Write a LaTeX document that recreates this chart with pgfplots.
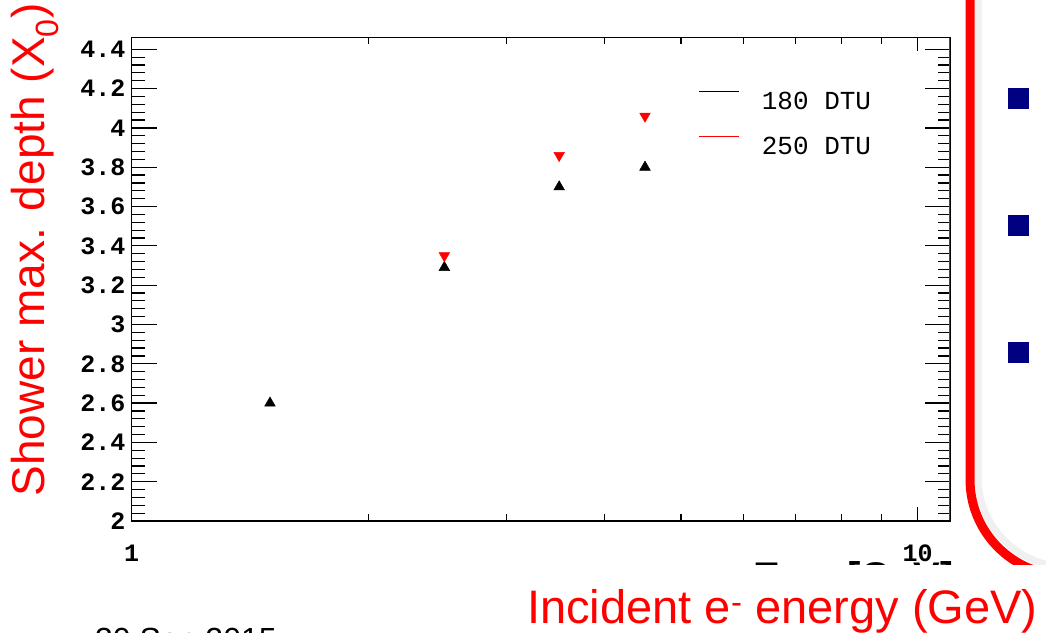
\documentclass[border=0pt]{standalone}
\usepackage{pgfplots}
\pgfplotsset{compat=1.18}
\usepackage{fontspec}
\setmainfont{Liberation Sans}
\newfontfamily\rootmono{Liberation Mono}
\definecolor{navyb}{RGB}{0,0,128}
\begin{document}
\begin{tikzpicture}
\clip (0pt,0pt) rectangle (1046pt,632pt);
\fill[white] (0pt,0pt) rectangle (1046pt,632pt);
% slide frame
\draw[gray!12, line width=7pt] (978pt,640pt) -- (978pt,155pt) arc[start angle=180,end angle=270,radius=90pt] -- (1100pt,65pt);
\draw[red, line width=9pt] (970pt,640pt) -- (970pt,152.5pt) arc[start angle=180,end angle=270,radius=96pt] -- (1100pt,56.5pt);
\fill[navyb] (1008pt,523pt) rectangle (1029pt,544pt);
\fill[navyb] (1008pt,396pt) rectangle (1029pt,417pt);
\fill[navyb] (1008pt,269pt) rectangle (1029pt,290pt);

\begin{axis}[
  at={(131.6pt,111pt)}, anchor=south west, scale only axis,
  width=819.1pt, height=483.5pt,
  xmode=log, xmin=1, xmax=11.02, ymin=2, ymax=4.46,
  xtick=\empty, minor xtick={},
  ytick={2,2.2,2.4,2.6,2.8,3,3.2,3.4,3.6,3.8,4,4.2,4.4},
  yticklabels={2,2.2,2.4,2.6,2.8,3,3.2,3.4,3.6,3.8,4,4.2,4.4},
  minor y tick num=4,
  tick align=inside, major tick length=26pt, minor tick length=13pt,
  /pgf/number format/assume math mode=true,
  yticklabel style={font=\rootmono\bfseries\fontsize{25}{25}\selectfont, inner sep=0pt, xshift=-6pt},
  axis line style={line width=1.5pt},
  every tick/.style={line width=1.2pt, black},
  clip=false,
  legend style={at={(0.688,0.8956)}, anchor=north west, draw=none, fill=none,
    font=\rootmono\fontsize{26}{26}\selectfont, column sep=20pt, row sep=24pt,
    nodes={inner sep=2pt, text height=17pt, text depth=0pt}},
  legend cell align=left,
]
\addplot[red, line width=2.6pt, forget plot] coordinates {(1,2) (11.02,2)};
\addplot[red, line width=1.2pt, forget plot] coordinates {(10.97,2) (10.97,4.46)};
\addplot[only marks, black, mark=triangle*, mark size=6.2pt, forget plot] coordinates {
  (1.5,2.60) (2.5,3.29) (3.5,3.70) (4.5,3.80)};
\addplot[only marks, red, mark=triangle*, mark size=6.2pt, mark options={rotate=180}, forget plot] coordinates {
  (2.5,3.35) (3.5,3.86) (4.5,4.06)};
\addlegendimage{legend image code/.code={\draw[black, line width=1.5pt] (0pt,9pt) -- (40pt,9pt);}}
\addlegendentry{180 DTU}
\addlegendimage{legend image code/.code={\draw[red, line width=1.5pt] (0pt,9pt) -- (40pt,9pt);}}
\addlegendentry{250 DTU}
\end{axis}

\begin{axis}[
  at={(131.6pt,111pt)}, anchor=south west, scale only axis,
  width=819.1pt, height=483.5pt,
  xmode=log, xmin=1, xmax=11.02, ymin=2, ymax=4.46,
  ytick=\empty, minor ytick={},
  xtick={1,10}, xticklabels={1,10},
  minor xtick={2,3,4,5,6,7,8,9},
  tick align=inside, major tick length=14pt, minor tick length=7pt,
  /pgf/number format/assume math mode=true,
  xticklabel style={font=\rootmono\bfseries\fontsize{25}{25}\selectfont, inner sep=0pt, yshift=-24pt},
  axis line style={line width=1.5pt},
  every tick/.style={line width=1.2pt, black},
]
\end{axis}

% ROOT axis title (mostly hidden)
\node[anchor=base west, inner sep=0pt, font=\bfseries\fontsize{40}{40}\selectfont] at (753pt,41.5pt) {E};
\node[anchor=base west, inner sep=0pt, font=\bfseries\fontsize{40}{40}\selectfont] at (847pt,41.5pt) {[GeV]};
\fill[white] (0pt,0pt) rectangle (1046pt,67pt);
\node[anchor=base west, inner sep=0pt, text=red, font=\fontsize{47}{47}\selectfont] at (527pt,9pt) {Incident e\textsuperscript{-} energy (GeV)};
\node[rotate=90, inner sep=0pt, text=red, font=\fontsize{46}{46}\selectfont] at (35pt,382pt) {Shower max. depth (X\textsubscript{0})};
\node[anchor=base west, inner sep=0pt, font=\fontsize{32}{32}\selectfont] at (95pt,-18pt) {30 Sep 2015};
\end{tikzpicture}
\end{document}
